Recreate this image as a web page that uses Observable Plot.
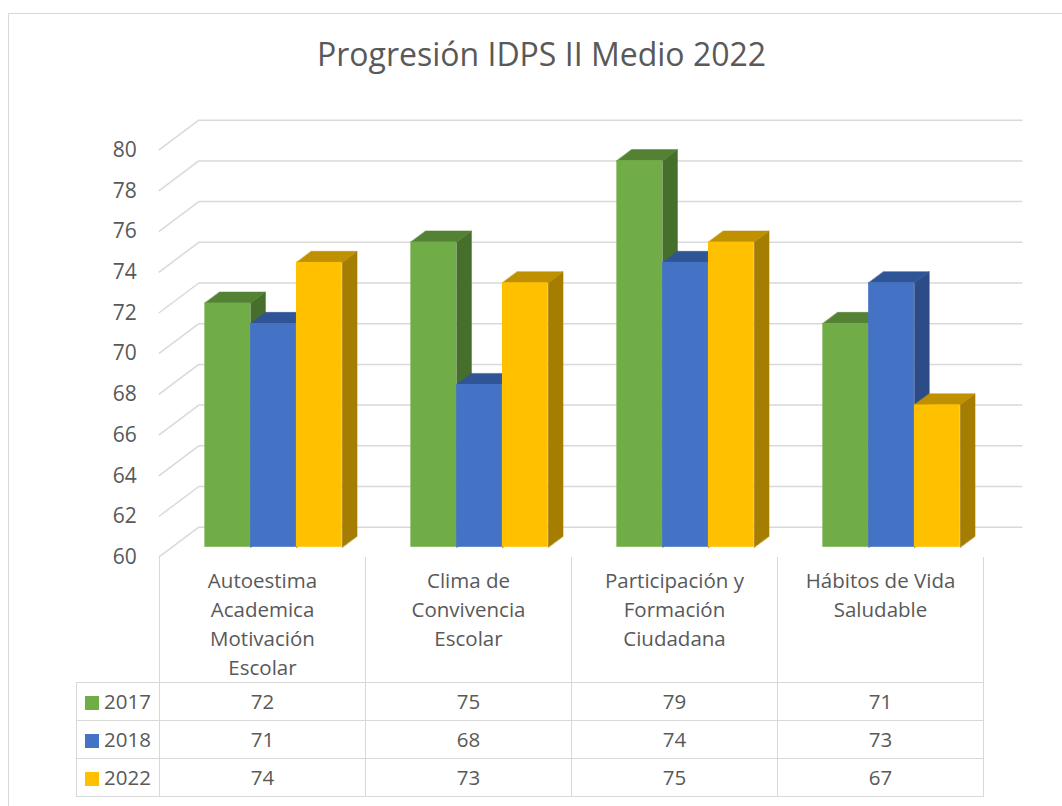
<!DOCTYPE html>
<html>
<head>
<meta charset="utf-8">
<script src="https://cdn.jsdelivr.net/npm/d3@7"></script>
<script src="https://cdn.jsdelivr.net/npm/@observablehq/plot@0.6"></script>
<style>
  body { margin: 0; background: #fff; }
  #wrap { position: relative; width: 1062px; height: 806px; overflow: hidden; background: #fff;
          font-family: "Open Sans", "Noto Sans", sans-serif; color: #595959; }
  #frame { position: absolute; left: 7.5px; top: 12.5px; width: 1200px; height: 1000px;
           border: 1.5px solid #d9d9d9; box-sizing: border-box; }
  #title { position: absolute; left: 0; width: 1083px; top: 38px; text-align: center;
           font-size: 32px; line-height: 32px; white-space: nowrap; }
  #chart { position: absolute; left: 0; top: 0; }
  #table { position: absolute; left: 76px; top: 556.7px; border-collapse: collapse;
           table-layout: fixed; width: 907px; font-size: 20.5px; color: #595959; }
  #table td { padding: 0; border: 1.5px solid #d9d9d9; text-align: center; }
  #table tr.head td { height: 121px; vertical-align: top; border-top: none; border-bottom: none;
                      line-height: 29px; padding-top: 9px; box-sizing: border-box; }
  #table tr.head td.corner { border-left: none; }
  #table tr.row td { height: 38px; line-height: 20px; box-sizing: border-box; }
  #table td.leg { text-align: left; padding-left: 8px; white-space: nowrap; }
  .sw { display: inline-block; width: 14px; height: 14px; margin-right: 5px; vertical-align: -1px; }
</style>
</head>
<body>
<div id="wrap">
  <div id="frame"></div>
  <div id="title"></div>
  <div id="chart"></div>
  <table id="table"></table>
</div>
<script>
// ---- data ----
const chartTitle = "Progresión IDPS II Medio 2022";
const categories = [
  "Autoestima\nAcademica\nMotivación\nEscolar",
  "Clima de\nConvivencia\nEscolar",
  "Participación y\nFormación\nCiudadana",
  "Hábitos de Vida\nSaludable"
];
const series = ["2017", "2018", "2022"];
const values2017 = [72, 75, 79, 71];
const values2018 = [71, 68, 74, 73];
const values2022 = [74, 73, 75, 67];
const yTicks = [60, 62, 64, 66, 68, 70, 72, 74, 76, 78, 80];

// ---- styles ----
const frontColors = ["#70AD47", "#4472C4", "#FFC000"];
const topColors   = ["#548235", "#2F5597", "#BF9000"];
const sideColors  = ["#466F2C", "#2B4C86", "#A57D00"];
const gridColor = "#d9d9d9";

const seriesValues = [values2017, values2018, values2022];

// ---- 3D oblique projection parameters (in scale units) ----
const KX = 40 / 206;     // back wall x shift (category units)
const KY = 30 / 20.35;   // back wall y shift (value units)
const Z1 = 0.33, Z2 = 0.70;  // bar front / back depth
const BW = 0.2223;       // bar width (category units)
const GC = 0.493;        // group centre within category
const P = (x, v, z) => ({x: x + z * KX, y: v + z * KY});

const fronts = [], tops = [], sides = [];
categories.forEach((c, i) => {
  series.forEach((s, j) => {
    const v = seriesValues[j][i];
    const x0 = i + GC - 1.5 * BW + j * BW, x1 = x0 + BW;
    const id = `${i}-${j}`;
    fronts.push({s: j, x1: x0 + Z1 * KX, x2: x1 + Z1 * KX, y1: 60 + Z1 * KY, y2: v + Z1 * KY});
    [P(x0, v, Z1), P(x1, v, Z1), P(x1, v, Z2), P(x0, v, Z2)].forEach(p => tops.push({...p, id, s: j}));
    [P(x1, 60, Z1), P(x1, v, Z1), P(x1, v, Z2), P(x1, 60, Z2)].forEach(p => sides.push({...p, id, s: j}));
  });
});

const W = 1062, H = 681;
const marks = [
  // back wall gridlines
  Plot.ruleY(yTicks, {y: d => d + KY, x1: KX, x2: 4 + KX, stroke: gridColor, strokeWidth: 1.5}),
  // left side wall gridlines
  Plot.link(yTicks, {x1: 0, y1: d => d, x2: KX, y2: d => d + KY, stroke: gridColor, strokeWidth: 1.5}),
  Plot.axisY({ticks: yTicks, tickSize: 0, tickPadding: 22, label: null, fontSize: 21, fill: "#595959"})
];
series.forEach((s, j) => marks.push(Plot.line(sides.filter(d => d.s === j),
  {x: "x", y: "y", z: "id", fill: sideColors[j], stroke: sideColors[j], strokeWidth: 0.5, curve: "linear-closed"})));
series.forEach((s, j) => marks.push(Plot.line(tops.filter(d => d.s === j),
  {x: "x", y: "y", z: "id", fill: topColors[j], stroke: topColors[j], strokeWidth: 0.5, curve: "linear-closed"})));
series.forEach((s, j) => marks.push(Plot.rect(fronts.filter(d => d.s === j),
  {x1: "x1", x2: "x2", y1: "y1", y2: "y2", fill: frontColors[j]})));

const plot = Plot.plot({
  width: W, height: H,
  marginLeft: 158.3, marginRight: W - 982.3, marginTop: 149.7, marginBottom: H - 556.7,
  x: {domain: [0, 4], axis: null},
  y: {domain: [60, 80], axis: null},
  style: {fontFamily: "'Open Sans', sans-serif", fontSize: "21px", color: "#595959", background: "transparent", overflow: "visible"},
  marks
});
document.getElementById("chart").appendChild(plot);
document.getElementById("title").textContent = chartTitle;

// ---- data table ----
const table = d3.select("#table");
const cg = table.append("colgroup");
cg.append("col").style("width", "83px");
categories.forEach(() => cg.append("col").style("width", "206px"));
const head = table.append("tr").attr("class", "head");
head.append("td").attr("class", "corner");
categories.forEach(c => head.append("td").html(c.split("\n").join("<br>")));
series.forEach((s, j) => {
  const tr = table.append("tr").attr("class", "row");
  const td = tr.append("td").attr("class", "leg");
  td.append("span").attr("class", "sw").style("background", frontColors[j]);
  td.append("span").text(s);
  seriesValues[j].forEach(v => tr.append("td").text(v));
});
</script>
</body>
</html>
